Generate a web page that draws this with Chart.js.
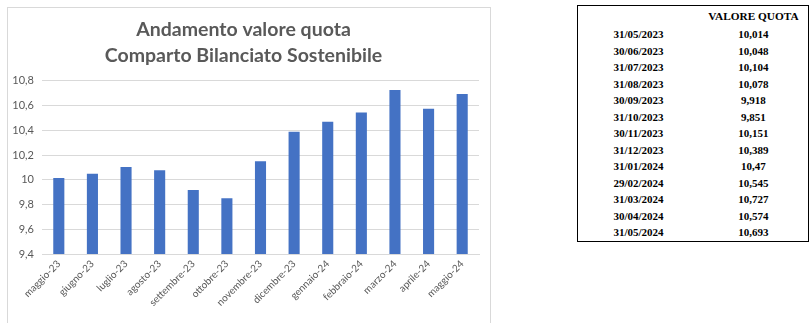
<!DOCTYPE html>
<html>
<head>
<meta charset="utf-8">
<script src="https://cdn.jsdelivr.net/npm/chart.js@4.4.1/dist/chart.umd.min.js"></script>
<style>
  body { margin: 0; background: #fff; width: 811px; height: 323px; overflow: hidden; position: relative; }
  #chartBox { position: absolute; left: 7px; top: 7px; width: 482px; height: 320px; border: 1px solid #d9d9d9; }
  #quotaTable { position: absolute; left: 577px; top: 5px; width: 232px; border: 1px solid #000; border-collapse: collapse;
    font-family: "Liberation Serif", "Times New Roman", serif; color: #000; }
  #quotaTable th { font-size: 11.3px; font-weight: bold; height: 20px; padding: 0; text-align: center; }
  #quotaTable td { font-size: 11px; font-weight: bold; height: 16.5px; padding: 0; text-align: center; }
</style>
</head>
<body>
<div id="chartBox"><canvas id="quotaChart"></canvas></div>
<table id="quotaTable">
  <colgroup><col style="width:122px"><col style="width:110px"></colgroup>
  <thead><tr><th></th><th>VALORE QUOTA</th></tr></thead>
  <tbody id="quotaRows"></tbody>
</table>
<script>
var mesi = ['maggio-23', 'giugno-23', 'luglio-23', 'agosto-23', 'settembre-23', 'ottobre-23', 'novembre-23',
            'dicembre-23', 'gennaio-24', 'febbraio-24', 'marzo-24', 'aprile-24', 'maggio-24'];
var date = ['31/05/2023', '30/06/2023', '31/07/2023', '31/08/2023', '30/09/2023', '31/10/2023', '30/11/2023',
            '31/12/2023', '31/01/2024', '29/02/2024', '31/03/2024', '30/04/2024', '31/05/2024'];
var valoriQuota = [10.014, 10.048, 10.104, 10.078, 9.918, 9.851, 10.151, 10.389, 10.47, 10.545, 10.727, 10.574, 10.693];

function virgola(v) {
    return String(v).replace('.', ',');
}

// tabella dei valori
var rows = document.getElementById('quotaRows');
date.forEach(function (d, i) {
    var tr = document.createElement('tr');
    tr.innerHTML = '<td>' + d + '</td><td>' + virgola(valoriQuota[i]) + '</td>';
    rows.appendChild(tr);
});

var canvas = document.getElementById('quotaChart');
canvas.width = 482;
canvas.height = 316;
var ctx = canvas.getContext('2d');
var quotaChart = new Chart(ctx, {
    type: 'bar',
    data: {
        labels: mesi,
        datasets: [{
            label: 'Valore quota',
            data: valoriQuota,
            backgroundColor: '#4472C4',
            barPercentage: 0.33,
            categoryPercentage: 1
        }]
    },
    options: {
        responsive: false,
        animation: false,
        layout: {
            padding: { left: 0, right: 11, top: 0, bottom: 0 }
        },
        plugins: {
            legend: { display: false },
            tooltip: { enabled: false },
            title: {
                display: true,
                text: ['Andamento valore quota', 'Comparto Bilanciato Sostenibile'],
                color: '#595959',
                font: { family: 'Lato', size: 19.5, weight: 'bold', lineHeight: 1.33 },
                padding: { top: 9, bottom: 12 }
            }
        },
        scales: {
            x: {
                grid: { display: false, drawTicks: false },
                border: { color: '#d9d9d9' },
                ticks: {
                    color: '#595959',
                    font: { family: 'Lato', size: 10 },
                    minRotation: 45,
                    maxRotation: 45,
                    autoSkip: false,
                    padding: 4
                },
                afterFit: function (scale) { scale.height = 70; }
            },
            y: {
                min: 9.4,
                max: 10.8,
                grid: { color: '#d9d9d9', drawTicks: false },
                border: { display: false },
                ticks: {
                    stepSize: 0.2,
                    color: '#595959',
                    font: { family: 'Lato', size: 11 },
                    padding: 8,
                    callback: function (v) { return virgola(Math.round(v * 10) / 10); }
                },
                afterFit: function (scale) { scale.width = 34; }
            }
        }
    }
});
</script>
</body>
</html>
